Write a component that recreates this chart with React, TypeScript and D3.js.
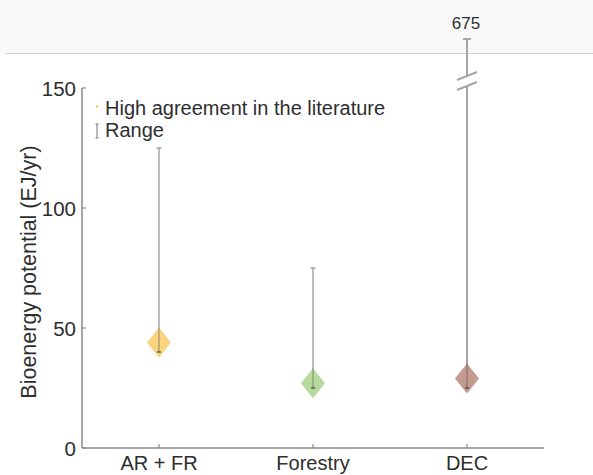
import React from "react";
import * as d3 from "d3";

const categories = ["AR + FR", "Forestry", "DEC"];
const highAgreement = [44, 27, 29];
const rangeLow = [40, 25, 25];
const rangeHigh = [125, 75, 675];
const colors = ["#F6CD66", "#A8D389", "#B8897A"];
const yTicks = [0, 50, 100, 150];
const legendLabels = ["High agreement in the literature", "Range"];

const W = 593;
const H = 475;
const FONT = "'Liberation Sans', Arial, Helvetica, sans-serif";
const TXT = "#2e2e2e";
const AX = "#8a8a8a";

export default function App() {
  const x = d3.scaleBand<string>().domain(categories).range([82, 544]).padding(0);
  const cx = (c: string) => (x(c) as number) + x.bandwidth() / 2;
  const y = d3.scaleLinear().domain([0, 150]).range([448, 88]);
  const yBreakTop = 39; // position used for the off-scale 675 value
  const yMax = y.domain()[1];

  return (
    <svg width={W} height={H} style={{ position: "absolute", left: 0, top: 0, background: "#fff" }} fontFamily={FONT}>
      {/* top band */}
      <rect x={0} y={0} width={W} height={53} fill="#f8f8f8" />
      <line x1={5} x2={W} y1={53.5} y2={53.5} stroke="#cfcfcf" strokeWidth={1} />

      {/* axes */}
      <line x1={82} x2={82} y1={y(150)} y2={448} stroke={AX} strokeWidth={1.5} />
      <line x1={82} x2={544} y1={448} y2={448} stroke={AX} strokeWidth={1.5} />
      {yTicks.map((t) => (
        <g key={t}>
          <line x1={82} x2={86} y1={y(t)} y2={y(t)} stroke={AX} strokeWidth={1.2} />
          <text x={76} y={y(t)} textAnchor="end" dominantBaseline="central" fontSize={20.5} fill={TXT}>
            {t}
          </text>
        </g>
      ))}
      {categories.map((c) => (
        <g key={c}>
          <line x1={cx(c)} x2={cx(c)} y1={448} y2={444} stroke={AX} strokeWidth={1.2} />
          <text x={cx(c)} y={470} textAnchor="middle" fontSize={20} fill={TXT}>
            {c}
          </text>
        </g>
      ))}
      <text
        transform={`translate(36,272) rotate(-90)`}
        textAnchor="middle"
        fontSize={21.5}
        fill={TXT}
      >
        Bioenergy potential (EJ/yr)
      </text>

      {/* ranges and diamonds */}
      {categories.map((c, i) => {
        const px = cx(c);
        const hi = rangeHigh[i];
        const off = hi > yMax;
        const yl = y(rangeLow[i]);
        const ym = y(highAgreement[i]);
        return (
          <g key={c}>
            {off ? (
              <g stroke="#a5a5a5" strokeWidth={2} fill="none">
                <line x1={px} x2={px} y1={yl} y2={y(yMax) - 1} />
                <line x1={px} x2={px} y1={y(yMax) - 12} y2={yBreakTop} />
                <line x1={px - 4} x2={px + 4} y1={yBreakTop} y2={yBreakTop} />
                <line x1={px - 10} x2={px + 10} y1={y(yMax) - 8} y2={y(yMax) - 16} />
                <line x1={px - 10} x2={px + 10} y1={y(yMax) + 2} y2={y(yMax) - 6} />
              </g>
            ) : (
              <g stroke="#a0a0a0" strokeWidth={1.4}>
                <line x1={px} x2={px} y1={yl} y2={y(hi)} />
                <line x1={px - 2.5} x2={px + 2.5} y1={y(hi)} y2={y(hi)} />
              </g>
            )}
            <path
              d={`M${px},${ym - 15} L${px + 12},${ym} L${px},${ym + 15} L${px - 12},${ym} Z`}
              fill={colors[i]}
              fillOpacity={0.85}
            />
            <line x1={px} x2={px} y1={yl} y2={ym - 15} stroke="#6a6a6a" strokeWidth={1} strokeOpacity={0.6} />
            <line x1={px - 2} x2={px + 2} y1={yl} y2={yl} stroke="#444" strokeWidth={1.2} />
            {off && (
              <text x={px - 1} y={29} textAnchor="middle" fontSize={17} fill={TXT}>
                {hi}
              </text>
            )}
          </g>
        );
      })}

      {/* legend */}
      <path d="M97,104.5 L98.5,106.5 L97,108.5 L95.5,106.5 Z" fill={colors[0]} />
      <text x={105} y={115} fontSize={20} fill={TXT}>
        {legendLabels[0]}
      </text>
      <g stroke="#8a8a8a" strokeWidth={1.2}>
        <line x1={97} x2={97} y1={124} y2={138} />
        <line x1={95.5} x2={98.5} y1={124} y2={124} />
        <line x1={95.5} x2={98.5} y1={138} y2={138} />
      </g>
      <text x={105} y={137} fontSize={20} fill={TXT}>
        {legendLabels[1]}
      </text>
    </svg>
  );
}
